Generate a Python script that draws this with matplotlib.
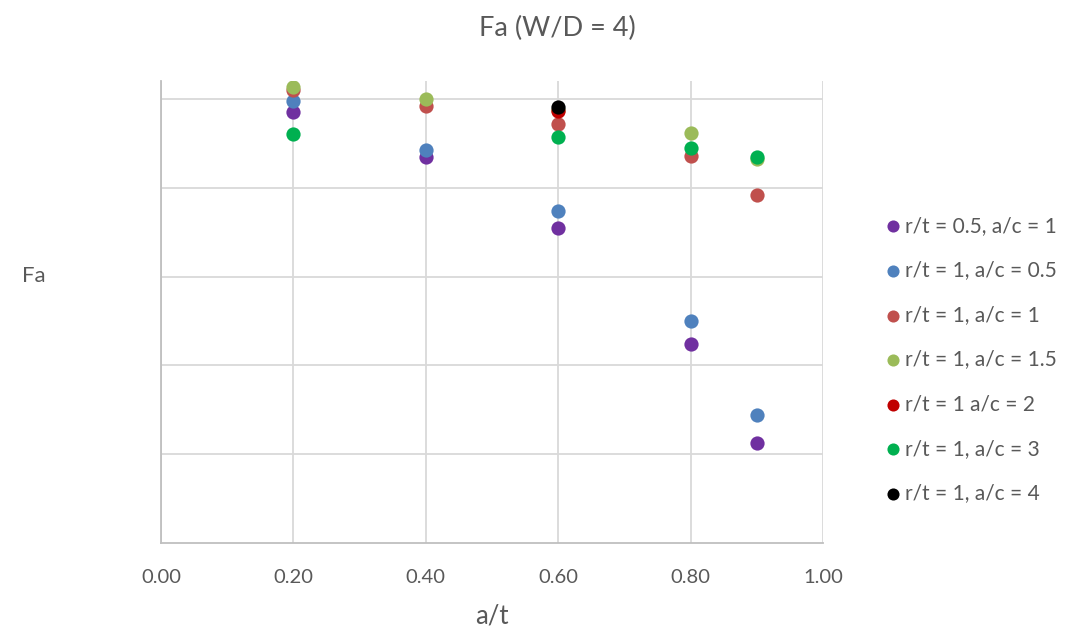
import matplotlib.pyplot as plt
import numpy as np

plt.rcParams['font.family'] = ['Lato', 'DejaVu Sans']

# a/t positions and Fa values
series_labels = [
    "r/t = 0.5, a/c = 1",
    "r/t = 1, a/c = 0.5",
    "r/t = 1, a/c = 1",
    "r/t = 1, a/c = 1.5",
    "r/t = 1 a/c = 2",
    "r/t = 1, a/c = 3",
    "r/t = 1, a/c = 4",
]
series_colors = ["#7030A0", "#4F81BD", "#C0504D", "#9BBB59", "#C00000", "#00B050", "#000000"]

x_rt05_ac1 = [0.2, 0.4, 0.6, 0.8, 0.9]
y_rt05_ac1 = [0.971, 0.869, 0.710, 0.448, 0.226]

x_rt1_ac05 = [0.2, 0.4, 0.6, 0.8, 0.9]
y_rt1_ac05 = [0.995, 0.885, 0.748, 0.500, 0.288]

x_rt1_ac1 = [0.2, 0.4, 0.6, 0.8, 0.9]
y_rt1_ac1 = [1.020, 0.984, 0.944, 0.871, 0.783]

x_rt1_ac15 = [0.2, 0.4, 0.6, 0.8, 0.9]
y_rt1_ac15 = [1.027, 1.000, 0.976, 0.924, 0.865]

x_rt1_ac2 = [0.6]
y_rt1_ac2 = [0.974]

x_rt1_ac3 = [0.2, 0.6, 0.8, 0.9]
y_rt1_ac3 = [0.921, 0.914, 0.889, 0.869]

x_rt1_ac4 = [0.6]
y_rt1_ac4 = [0.983]

xs = [x_rt05_ac1, x_rt1_ac05, x_rt1_ac1, x_rt1_ac15, x_rt1_ac2, x_rt1_ac3, x_rt1_ac4]
ys = [y_rt05_ac1, y_rt1_ac05, y_rt1_ac1, y_rt1_ac15, y_rt1_ac2, y_rt1_ac3, y_rt1_ac4]

x_ticks = [0.0, 0.2, 0.4, 0.6, 0.8, 1.0]
y_ticks = [0.2, 0.4, 0.6, 0.8, 1.0]

text_color = "#595959"
grid_color = "#D9D9D9"

fig = plt.figure(figsize=(10.66, 6.28), dpi=100)
ax = fig.add_axes([0.151, 0.1354, 0.621, 0.7356])

for x, y, lab, col in zip(xs, ys, series_labels, series_colors):
    ax.scatter(x, y, s=105, color=col, label=lab, zorder=3, linewidths=0)

ax.set_xlim(0, 1.0)
ax.set_ylim(0, 1.0405)
ax.set_xticks(x_ticks)
ax.set_xticklabels([f"{v:.2f}" for v in x_ticks])
ax.set_yticks(y_ticks)
ax.set_yticklabels([])
ax.tick_params(axis='y', length=0)
ax.tick_params(axis='x', length=0, pad=19, labelsize=14.5, labelcolor=text_color)
ax.grid(True, color=grid_color, linewidth=1.3, zorder=0)
ax.set_axisbelow(True)

for s in ["top", "right"]:
    ax.spines[s].set_visible(False)
for s in ["left", "bottom"]:
    ax.spines[s].set_color("#BFBFBF")
    ax.spines[s].set_linewidth(1.3)

ax.set_xlabel("a/t", fontsize=18.5, color=text_color, labelpad=12)
fig.text(0.021, 0.56, "Fa", fontsize=16, color=text_color, va="center", ha="left")
fig.text(0.523, 0.955, "Fa (W/D = 4)", fontsize=19.5, color=text_color, va="center", ha="center")

leg = ax.legend(loc="center left", bbox_to_anchor=(1.094, 0.397), frameon=False,
                fontsize=15, labelspacing=1.18, handlelength=0.75, handletextpad=0.22,
                markerscale=0.85, borderaxespad=0, borderpad=0)
for t in leg.get_texts():
    t.set_color(text_color)

fig.savefig("out.png", dpi=100)
